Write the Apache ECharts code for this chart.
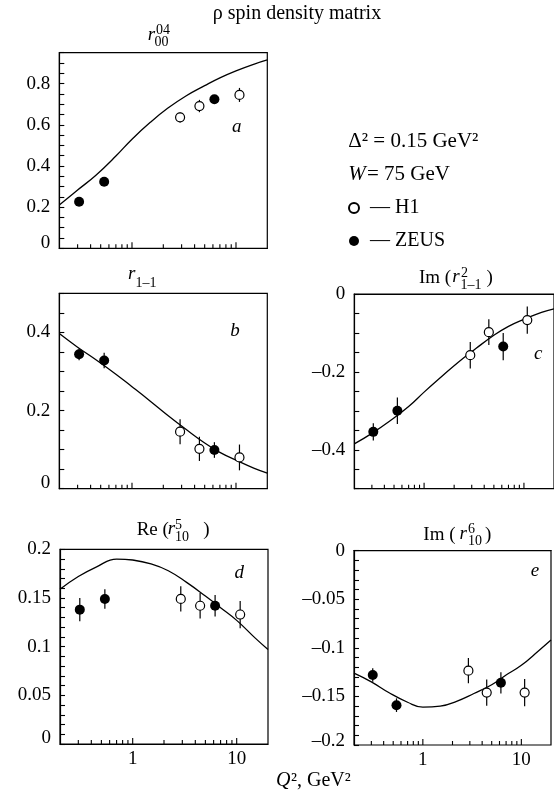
<!DOCTYPE html>
<html>
<head>
  <meta charset="utf-8" />
  <title>rho spin density matrix</title>
  <script src="https://cdn.jsdelivr.net/npm/echarts@6/dist/echarts.min.js"></script>
  <style>
    body { margin: 0; background: #fff; }
    #chart { width: 554px; height: 801px; }
  </style>
</head>
<body>
  <div id="chart"></div>

  <script>
    // measured points: Q^2 in GeV^2 and the experiment for each point
    const q2Points = [0.31, 0.54, 2.9, 4.45, 6.2, 10.8];
    const experiment = ['ZEUS', 'ZEUS', 'H1', 'H1', 'ZEUS', 'H1'];

    // panel a: r00^04
    const r00Val = [0.226, 0.323, 0.636, 0.691, 0.724, 0.745];
    const r00Err = [0.008, 0.008, 0.025, 0.03, 0.008, 0.034];
    // panel b: r1-1
    const r1m1Val = [0.344, 0.328, 0.146, 0.102, 0.099, 0.08];
    const r1m1Err = [0.015, 0.02, 0.032, 0.031, 0.02, 0.033];
    // panel c: Im r^2_1-1
    const imR2Val = [-0.354, -0.300, -0.157, -0.098, -0.135, -0.067];
    const imR2Err = [0.022, 0.034, 0.034, 0.033, 0.035, 0.035];
    // panel d: Re r^5_10
    const reR5Val = [0.138, 0.149, 0.149, 0.142, 0.142, 0.133];
    const reR5Err = [0.012, 0.01, 0.013, 0.013, 0.011, 0.014];
    // panel e: Im r^6_10
    const imR6Val = [-0.128, -0.159, -0.1235, -0.146, -0.136, -0.146];
    const imR6Err = [0.007, 0.007, 0.013, 0.0135, 0.011, 0.014];

    // model curves
    const curveQ2 = [0.2, 0.3, 0.45, 0.7, 1, 1.5, 2.2, 3.3, 5, 7, 10, 15, 20];
    const r00Curve = [0.21, 0.283, 0.355, 0.448, 0.53, 0.612, 0.68, 0.74, 0.79, 0.828, 0.862, 0.895, 0.915];
    const r1m1Curve = [0.397, 0.362, 0.33, 0.293, 0.261, 0.224, 0.188, 0.152, 0.117, 0.093, 0.073, 0.052, 0.04];
    const imR2Curve = [-0.385, -0.358, -0.327, -0.289, -0.252, -0.212, -0.175, -0.14, -0.106, -0.083, -0.065, -0.047, -0.038];
    const reR5Curve = [0.159, 0.172, 0.182, 0.19, 0.189, 0.185, 0.178, 0.166, 0.152, 0.14, 0.127, 0.109, 0.097];
    const imR6Curve = [-0.126, -0.135, -0.146, -0.156, -0.161, -0.16, -0.155, -0.147, -0.138, -0.128, -0.118, -0.103, -0.092];

    // x-axis tick positions (log axis), 1 and 10 are the long ones
    const xTicks = [0.3, 0.4, 0.5, 0.6, 0.7, 0.8, 0.9, 1, 2, 3, 4, 5, 6, 7, 8, 9, 10];
    const xMajor = [1, 10];

    const FONT = '"Liberation Serif", "Times New Roman", serif';

    // panel setup: values, errors, curve, y range, tick step, label step, box
    const panels = [
      { val: r00Val, err: r00Err, curve: r00Curve, min: 0, max: 0.95, step: 0.05, lab: 0.2, lift: 11, box: [59.3, 52.7, 208, 195.6], bottom: false },
      { val: r1m1Val, err: r1m1Err, curve: r1m1Curve, min: 0, max: 0.5, step: 0.05, lab: 0.2, lift: 12, box: [59.3, 293.3, 208, 195.4], bottom: false },
      { val: imR2Val, err: imR2Err, curve: imR2Curve, min: -0.5, max: 0, step: 0.05, lab: 0.2, lift: 0, box: [354.3, 294, 208, 194.7], bottom: false },
      { val: reR5Val, err: reR5Err, curve: reR5Curve, min: 0, max: 0.2, step: 0.01, lab: 0.05, lift: 12, box: [60, 549.3, 208, 194.7], bottom: true },
      { val: imR6Val, err: imR6Err, curve: imR6Curve, min: -0.2, max: 0, step: 0.01, lab: 0.05, lift: 7, box: [354, 550.7, 208, 194.3], bottom: true }
    ];

    function yLabel(p) {
      return function (v) {
        const r = v / p.lab;
        if (Math.abs(r - Math.round(r)) > 1e-6) return '';
        const s = String(+Math.abs(v).toFixed(3));
        const t = v < -1e-9 ? '\u2013' + s : s;
        // the lowest label sits a little above the corner
        return (p.lift && Math.abs(v - p.min) < 1e-9) ? '{low|' + t + '}' : t;
      };
    }

    function xLabel(v) {
      const l = Math.log10(v);
      return Math.abs(l - Math.round(l)) < 1e-6 ? String(Math.round(v)) : '';
    }

    function errItem(params, api) {
      const x = api.value(0), y = api.value(1), e = api.value(2);
      const a = api.coord([x, y - e]);
      const b = api.coord([x, y + e]);
      return { type: 'line', shape: { x1: a[0], y1: a[1], x2: b[0], y2: b[1] },
               style: { stroke: '#000', lineWidth: 1.2 } };
    }

    function tickItem(params, api) {
      const v = api.value(0);
      const x = api.coord([v, api.value(1)])[0];
      const cs = params.coordSys;
      const y0 = cs.y + cs.height;
      const len = xMajor.indexOf(v) >= 0 ? 6 : 4;
      return { type: 'line', shape: { x1: x, y1: y0, x2: x, y2: y0 - len },
               style: { stroke: '#000', lineWidth: 1.1 } };
    }

    const grids = [], xAxes = [], yAxes = [], series = [];
    panels.forEach(function (p, i) {
      grids.push({ left: p.box[0], top: p.box[1], width: p.box[2], height: p.box[3],
                   show: true, borderColor: '#000', borderWidth: 1.2, backgroundColor: 'transparent' });
      xAxes.push({
        type: 'log', logBase: 10, gridIndex: i, min: 0.2, max: 20,
        axisLine: { show: true, lineStyle: { color: '#000', width: 1.2 } },
        axisTick: { show: false },
        splitLine: { show: false },
        axisLabel: { show: p.bottom, formatter: xLabel, color: '#000', fontFamily: FONT, fontSize: 19, margin: 6 }
      });
      yAxes.push({
        type: 'value', gridIndex: i, min: p.min, max: p.max, interval: p.step,
        axisLine: { show: true, lineStyle: { color: '#000', width: 1.2 } },
        axisTick: { show: true, inside: true, length: 5, lineStyle: { color: '#000', width: 1.1 } },
        splitLine: { show: false },
        axisLabel: {
          formatter: yLabel(p), color: '#000', fontFamily: FONT, fontSize: 19, margin: 9,
          rich: { low: { fontFamily: FONT, fontSize: 19, color: '#000', padding: [0, 0, p.lift, 0] } }
        }
      });

      series.push({ type: 'line', xAxisIndex: i, yAxisIndex: i, smooth: 0.45, symbol: 'none', z: 2,
                    lineStyle: { color: '#000', width: 1.3 }, data: curveQ2.map((x, k) => [x, p.curve[k]]) });
      series.push({ type: 'custom', xAxisIndex: i, yAxisIndex: i, z: 3, renderItem: errItem,
                    encode: { x: 0, y: 1 }, data: q2Points.map((x, k) => [x, p.val[k], p.err[k]]) });
      series.push({ type: 'custom', xAxisIndex: i, yAxisIndex: i, z: 3, renderItem: tickItem,
                    encode: { x: 0, y: 1 }, data: xTicks.map(x => [x, p.min]) });
      series.push({ name: 'H1', type: 'scatter', xAxisIndex: i, yAxisIndex: i, z: 4, symbolSize: 9,
                    itemStyle: { color: '#fff', borderColor: '#000', borderWidth: 1.2, opacity: 1 },
                    data: q2Points.map((x, k) => [x, p.val[k]]).filter((d, k) => experiment[k] === 'H1') });
      series.push({ name: 'ZEUS', type: 'scatter', xAxisIndex: i, yAxisIndex: i, z: 4, symbolSize: 10,
                    itemStyle: { color: '#000', opacity: 1 },
                    data: q2Points.map((x, k) => [x, p.val[k]]).filter((d, k) => experiment[k] === 'ZEUS') });
    });

    function txt(x, y, text, size, italic, align) {
      return {
        type: 'text', x: x, y: y, silent: true,
        style: {
          text: text, fill: '#000',
          fontFamily: FONT, fontSize: size, fontStyle: italic ? 'italic' : 'normal',
          textAlign: align || 'left', align: align || 'left',
          textVerticalAlign: 'middle', verticalAlign: 'middle'
        }
      };
    }

    const graphics = [
      txt(297, 14, '\u03c1 spin density matrix', 20, false, 'center'),
      // a: r00^04
      txt(151.5, 35, 'r', 19, true, 'center'),
      txt(156, 30, '04', 14),
      txt(154.5, 42.5, '00', 14),
      // b: r1-1
      txt(131.7, 274, 'r', 19, true, 'center'),
      txt(135.5, 283.5, '1\u20131', 14),
      // c: Im (r^2_1-1)
      txt(419, 278, 'Im (', 19),
      txt(456, 277, 'r', 19, true, 'center'),
      txt(461, 273.5, '2', 14),
      txt(460.5, 285.5, '1\u20131', 14),
      txt(486.5, 278, ')', 19),
      // d: Re (r^5_10 )
      txt(136.7, 530, 'Re (', 19),
      txt(171.5, 529, 'r', 19, true, 'center'),
      txt(175, 525, '5', 14),
      txt(175, 537.5, '10', 14),
      txt(203.3, 530, ')', 19),
      // e: Im (r^6_10)
      txt(423.3, 535, 'Im (', 19),
      txt(463.3, 534, 'r', 19, true, 'center'),
      txt(468, 529.5, '6', 14),
      txt(468, 541.5, '10', 14),
      txt(485, 535, ')', 19),
      // panel letters
      txt(236.7, 127, 'a', 19, true, 'center'),
      txt(235, 331, 'b', 19, true, 'center'),
      txt(538.3, 354, 'c', 19, true, 'center'),
      txt(239.3, 573, 'd', 19, true, 'center'),
      txt(535, 571, 'e', 19, true, 'center'),
      // conditions
      txt(348.3, 141.5, '\u0394\u00b2 = 0.15 GeV\u00b2', 21),
      txt(348.3, 174, 'W', 21, true),
      txt(367, 174, '= 75 GeV', 21),
      // x axis name
      txt(276, 781, 'Q', 20, true),
      txt(291, 781, '\u00b2, GeV\u00b2', 20)
    ];

    const chart = echarts.init(document.getElementById('chart'));
    chart.setOption({
      animation: false,
      backgroundColor: '#fff',
      grid: grids,
      xAxis: xAxes,
      yAxis: yAxes,
      series: series,
      legend: {
        data: ['H1', 'ZEUS'], orient: 'vertical', left: 348, top: 198, padding: 0,
        itemWidth: 10, itemHeight: 10, itemGap: 13, icon: 'circle', selectedMode: false,
        formatter: function (n) { return '\u2014 ' + n; },
        textStyle: { fontFamily: FONT, fontSize: 20, color: '#000', lineHeight: 18, padding: [0, 0, 0, 6] }
      },
      graphic: graphics
    });
  </script>
</body>
</html>
